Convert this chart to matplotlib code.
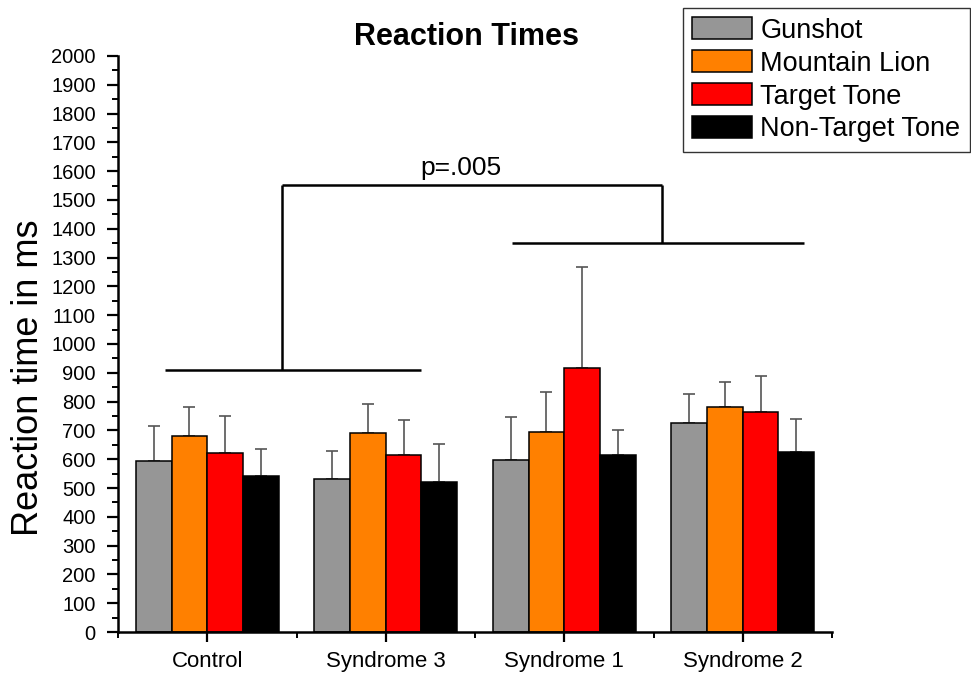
import matplotlib
matplotlib.use("Agg")
import matplotlib.pyplot as plt
import numpy as np
from matplotlib.ticker import MultipleLocator

plt.rcParams['font.family'] = ['Liberation Sans', 'DejaVu Sans']

categories = ["Control", "Syndrome 3", "Syndrome 1", "Syndrome 2"]
series = ["Gunshot", "Mountain Lion", "Target Tone", "Non-Target Tone"]
colors = ["#969696", "#FF8000", "#FF0000", "#000000"]

means = {
    "Gunshot":         [594, 530, 598, 727],
    "Mountain Lion":   [682, 690, 693, 780],
    "Target Tone":     [623, 616, 916, 763],
    "Non-Target Tone": [542, 521, 615, 626],
}
err_tops = {
    "Gunshot":         [716, 630, 747, 826],
    "Mountain Lion":   [780, 792, 833, 868],
    "Target Tone":     [751, 735, 1267, 890],
    "Non-Target Tone": [635, 653, 702, 738],
}

# significance bracket (data coords)
left_bar = (0.764, 2.20, 910)
right_bar = (2.708, 4.343, 1350)
top_bar = (1.416, 3.545, 1552)
p_text = "p=.005"

fig = plt.figure(figsize=(9.71, 6.75), dpi=100)
ax = fig.add_axes([118/971, 1-632/675, (832-118)/971, (632-56)/675])

x = np.arange(1, len(categories)+1)
w = 0.2
for i, s in enumerate(series):
    xs = x + (i - 1.5) * w
    m = np.array(means[s])
    e = np.array(err_tops[s]) - m
    ax.errorbar(xs, m, yerr=[np.zeros_like(e), e], fmt='none', ecolor='#555555',
                elinewidth=1.2, capsize=4, capthick=1.2, zorder=1)
    ax.bar(xs, m, width=w, color=colors[i], edgecolor='black', linewidth=1.1,
           label=s, zorder=2)

# brackets
lw = 1.8
ax.plot([left_bar[0], left_bar[1]], [left_bar[2]]*2, color='black', lw=lw, solid_capstyle='butt')
ax.plot([right_bar[0], right_bar[1]], [right_bar[2]]*2, color='black', lw=lw, solid_capstyle='butt')
ax.plot([top_bar[0], top_bar[1]], [top_bar[2]]*2, color='black', lw=lw, solid_capstyle='butt')
ax.plot([top_bar[0]]*2, [left_bar[2], top_bar[2]], color='black', lw=lw, solid_capstyle='butt')
ax.plot([top_bar[1]]*2, [right_bar[2], top_bar[2]], color='black', lw=lw, solid_capstyle='butt')
ax.text(2.42, 1588, p_text, ha='center', va='baseline', fontsize=19)

ax.set_xlim(0.5, 4.5)
ax.set_ylim(0, 2000)
ax.set_xticks(x)
ax.set_xticklabels(categories, fontsize=16)
ax.set_xticks(np.arange(0.5, 4.6, 1.0), minor=True)
ax.yaxis.set_major_locator(MultipleLocator(100))
ax.yaxis.set_minor_locator(MultipleLocator(50))
ax.tick_params(axis='y', which='major', length=8, width=1.6, labelsize=14.5, pad=8, direction='out')
ax.tick_params(axis='y', which='minor', length=4, width=1.4, direction='out')
ax.tick_params(axis='x', which='major', length=7, width=1.6, pad=7, direction='out')
ax.tick_params(axis='x', which='minor', length=4, width=1.4, direction='out')

for sp in ['top', 'right']:
    ax.spines[sp].set_visible(False)
for sp in ['left', 'bottom']:
    ax.spines[sp].set_linewidth(1.8)

fig.text(466/971, 1-37/675, "Reaction Times", ha='center', va='center',
         fontsize=22, fontweight='bold')
fig.text(29/971, 1-378/675, "Reaction time in ms", ha='center', va='center',
         rotation=90, fontsize=26)

leg = fig.legend(loc='upper left', bbox_to_anchor=(683/971, 1-8/675),
                 fontsize=19.5, frameon=True, fancybox=False, shadow=False,
                 handlelength=2.2, handleheight=0.85, handletextpad=0.3,
                 labelspacing=0.25, borderpad=0.35, borderaxespad=0)
leg.get_frame().set_edgecolor('black')
leg.get_frame().set_linewidth(1.0)

fig.savefig("out.png", dpi=100)
